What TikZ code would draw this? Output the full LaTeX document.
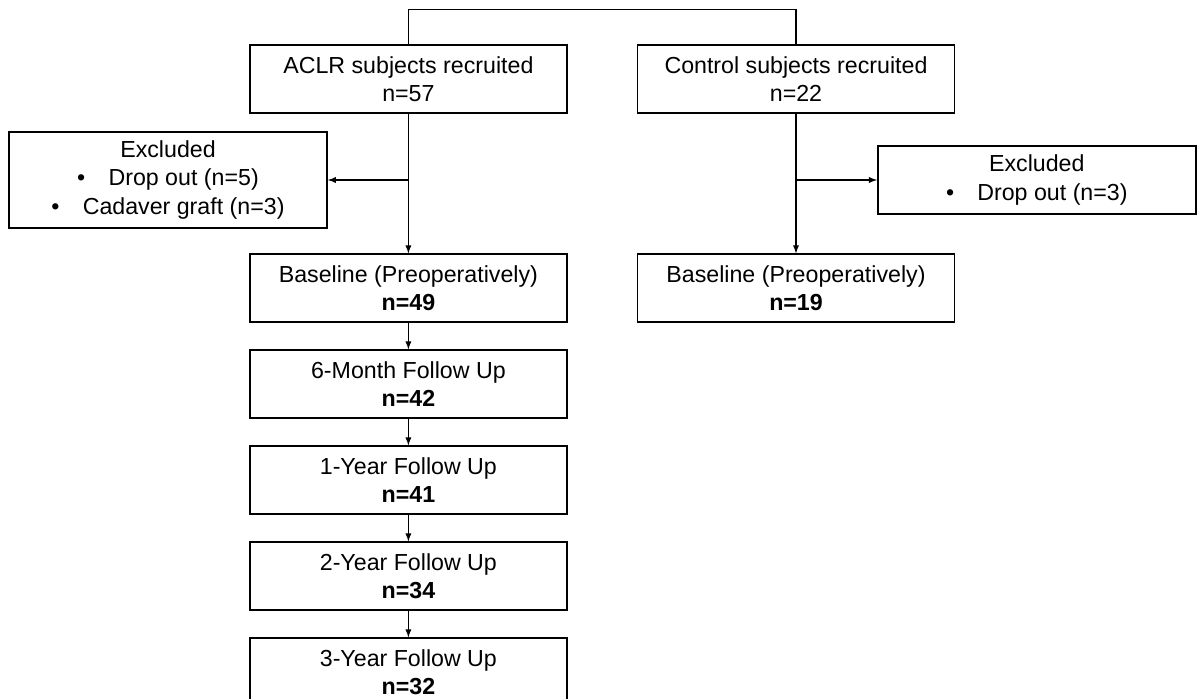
\documentclass[tikz,border=0pt]{standalone}
\usepackage{fontspec}
\setmainfont{Liberation Sans}
\usepackage{tikz}
\usetikzlibrary{arrows,positioning,calc}

\begin{document}
\begin{tikzpicture}[line width=.4mm,
    font=\fontsize{16.5}{20}\selectfont,
    box/.style={draw,rectangle,align=center,minimum width=7.93cm,minimum height=1.69cm,inner sep=2pt},
    exbox/.style={draw,rectangle,align=center,minimum width=7.95cm,inner sep=2pt},
    arr/.style={->,>=latex,line width=.35mm}]

      \useasboundingbox (0,0) rectangle (30,-17.47);

      % recruited
      \node[box] (aclr) at (10.21,-1.975) {ACLR subjects recruited\\n=57};
      \node[box] (ctrl) at (19.9,-1.975) {Control subjects recruited\\n=22};
      \coordinate (top) at (10.21,-.24);
      \draw[line width=.35mm] (aclr.north) -- (top) -| (ctrl.north);

      % excluded
      \node[exbox,minimum height=2.4cm] (exclL) at (4.2,-4.5)
        {Excluded\\\textbullet\quad Drop out (n=5)\\\textbullet\quad Cadaver graft (n=3)};
      \node[exbox,minimum height=1.69cm] (exclR) at (25.92,-4.5)
        {Excluded\\\textbullet\quad Drop out (n=3)};

      % baseline
      \node[box] (baseL) at (10.21,-7.2) {Baseline (Preoperatively)\\\textbf{n=49}};
      \node[box] (baseR) at (19.9,-7.2) {Baseline (Preoperatively)\\\textbf{n=19}};

      % follow ups
      \node[box,below=.67cm of baseL] (m6) {6-Month Follow Up\\\textbf{n=42}};
      \node[box,below=.67cm of m6] (y1) {1-Year Follow Up\\\textbf{n=41}};
      \node[box,below=.67cm of y1] (y2) {2-Year Follow Up\\\textbf{n=34}};
      \node[box,below=.67cm of y2] (y3) {3-Year Follow Up\\\textbf{n=32}};

      \draw[arr] (aclr) -- (baseL);
      \draw[arr] (ctrl) -- (baseR);
      \draw[arr] (aclr.south |- exclL) -- (exclL.east);
      \draw[arr] (ctrl.south |- exclR) -- (exclR.west);

      \draw[arr] (baseL) -- (m6);
      \draw[arr] (m6) -- (y1);
      \draw[arr] (y1) -- (y2);
      \draw[arr] (y2) -- (y3);

    \end{tikzpicture}
\end{document}
